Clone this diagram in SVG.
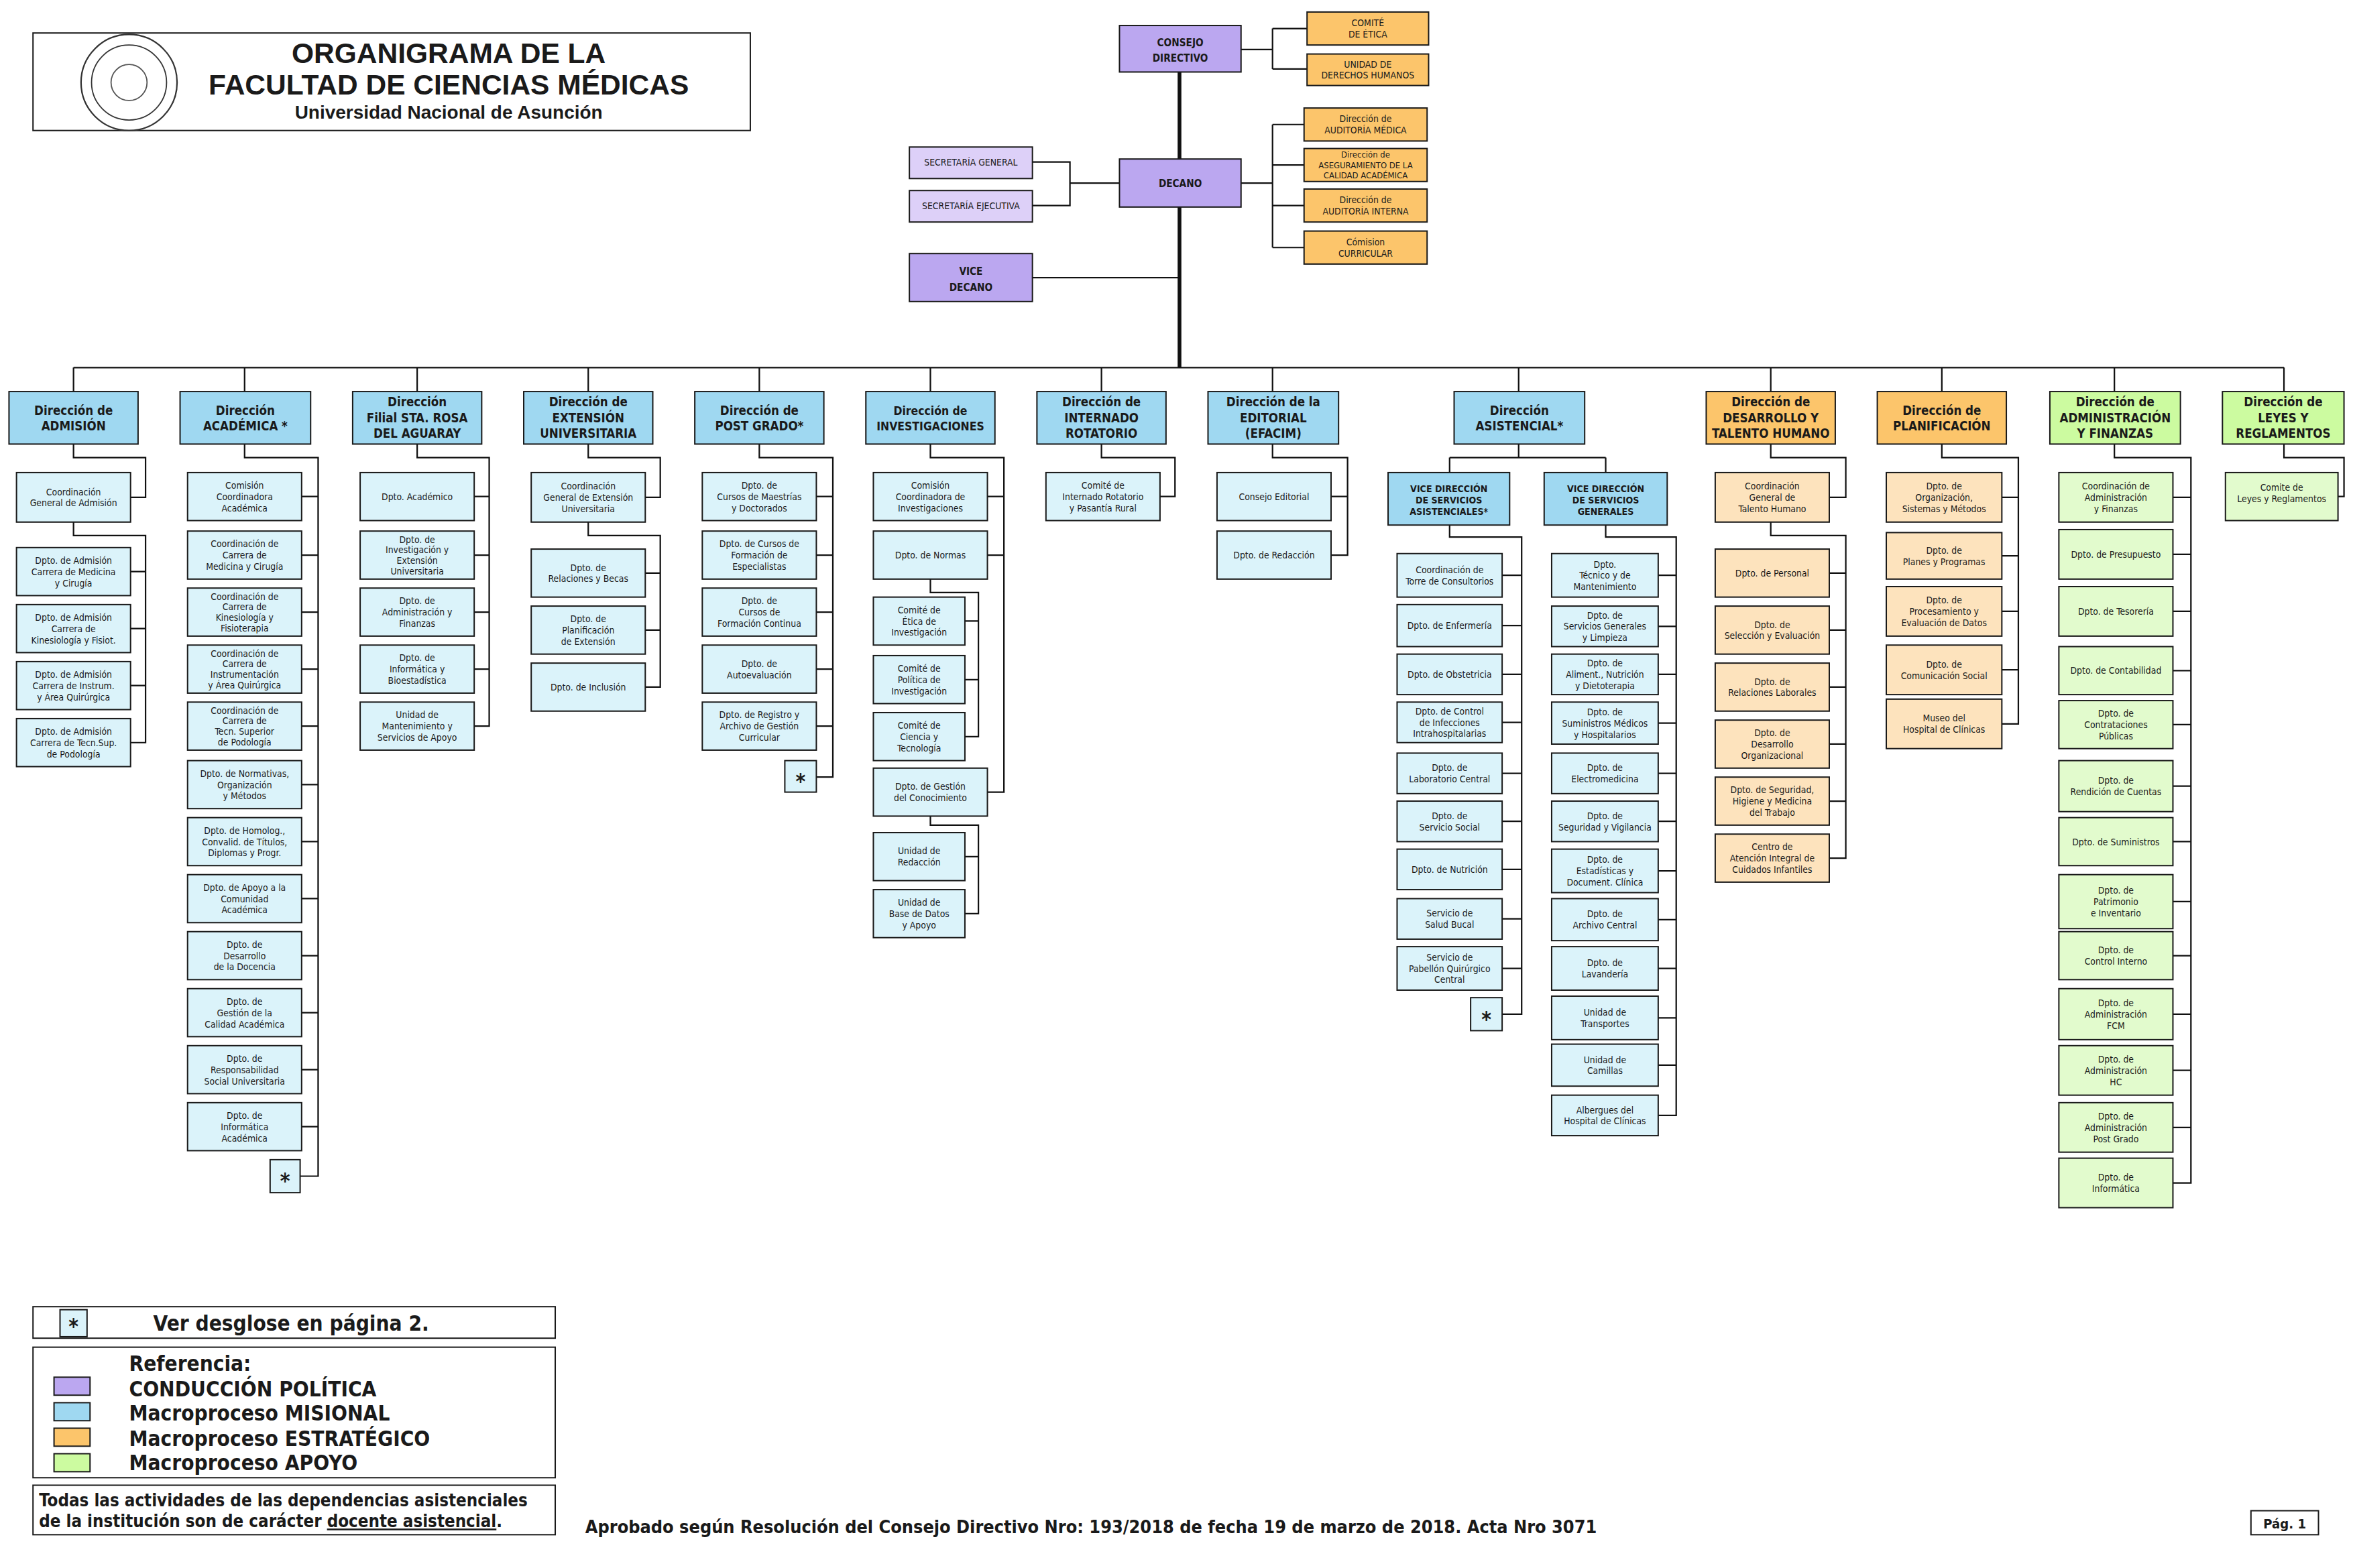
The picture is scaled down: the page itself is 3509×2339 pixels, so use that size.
<svg xmlns="http://www.w3.org/2000/svg" width="3509" height="2339" viewBox="0 0 3509 2339">
<style>
rect{stroke:#1a1a1a;stroke-width:0.9}
.d{fill:#9fd8f1}.c{fill:#dbf3fa}.do{fill:#fcc56b}.co{fill:#fde3bd}.dg{fill:#ccfba0}.cg{fill:#e2fbcd}.p{fill:#bba7f0}.pl{fill:#ddd0f8}.w{fill:#fff}
text{font-family:"DejaVu Sans Condensed","DejaVu Sans",sans-serif;fill:#1a1a1a;text-anchor:middle}
.t{font-size:6.2px}
.h{font-size:8.3px;font-weight:bold}
.v{font-size:6.8px;font-weight:bold}
.ln{fill:none;stroke:#111;stroke-width:1}
.st{font-size:14px;font-weight:bold}
</style>
<rect x="0" y="0" width="3509" height="2339" style="fill:#fff;stroke:none"/>
<g transform="scale(2.23788)">
<g id="title">
<rect class="w" x="22" y="22" width="478" height="65"/>
<circle cx="86" cy="55" r="32" fill="#fff" stroke="#333" stroke-width="1"/>
<circle cx="86" cy="55" r="25" fill="none" stroke="#333" stroke-width="0.8"/>
<circle cx="86" cy="55" r="12" fill="none" stroke="#555" stroke-width="0.8"/>
<text x="299" y="42" style="font-family:'Liberation Sans',Arial,sans-serif;font-size:19px;font-weight:bold">ORGANIGRAMA DE LA</text>
<text x="299" y="63" style="font-family:'Liberation Sans',Arial,sans-serif;font-size:19px;font-weight:bold">FACULTAD DE CIENCIAS MÉDICAS</text>
<text x="299" y="79" style="font-family:'Liberation Sans',Arial,sans-serif;font-size:12.5px;font-weight:bold">Universidad Nacional de Asunción</text>
</g>
<g id="connectors">
<path class="ln" d="M786 48V245" style="stroke-width:2.5"/>
<path class="ln" d="M827 33H848M848 19V46M848 19H871M848 46H871"/>
<path class="ln" d="M827 122H848M848 83V165M848 83H869M848 110H869M848 137H869M848 165H869"/>
<path class="ln" d="M688 108H713V137H688M713 122H746M688 185H786"/>
<path class="ln" d="M49 245H1522M49 245V261M163 245V261M278 245V261M392 245V261M506 245V261M620 245V261M734 245V261M848 245V261M1012 245V261M1180 245V261M1294 245V261M1409 245V261M1522 245V261"/>
<path class="ln" d="M49 296V305H97V331.5H87M49 348V357H97V495H87M87 381H97M87 419H97M87 457H97"/>
<path class="ln" d="M163 296V305H212V784H200M201 331H212M201 370H212M201 408H212M201 446H212M201 484H212M201 523H212M201 561H212M201 599H212M201 637H212M201 675H212M201 713H212M201 751H212"/>
<path class="ln" d="M278 296V305H326V484H316M316 331H326M316 370H326M316 408H326M316 446H326"/>
<path class="ln" d="M392 296V305H440V331.5H430M392 348V357H440V458H430M430 382H440M430 420H440"/>
<path class="ln" d="M506 296V305H555V518H544M544 331H555M544 370H555M544 408H555M544 446H555M544 484H555"/>
<path class="ln" d="M620 296V305H669V528H658M658 331H669M658 370H669M620 386V395H652V491H643M643 414H652M643 453H652M620 544V550H652V609H643M643 571H652"/>
<path class="ln" d="M734 296V305H783V331H773"/>
<path class="ln" d="M848 296V305H898V370H887M887 331H898"/>
<path class="ln" d="M1012 296V305M966 305H1070M966 305V315M1070 305V315"/>
<path class="ln" d="M966 350V358H1014V676H1001M1001 383.5H1014M1001 417H1014M1001 449.5H1014M1001 481.5H1014M1001 515.5H1014M1001 547.5H1014M1001 579.5H1014M1001 612.5H1014M1001 645.5H1014"/>
<path class="ln" d="M1070 350V358H1117V743.5H1105M1105 383.5H1117M1105 417.5H1117M1105 449.5H1117M1105 482H1117M1105 515.5H1117M1105 547.5H1117M1105 580.5H1117M1105 613H1117M1105 645.5H1117M1105 678.5H1117M1105 710H1117"/>
<path class="ln" d="M1180 296V305H1230V331.5H1219M1180 348V357H1230V572H1219M1219 382H1230M1219 420H1230M1219 458H1230M1219 496H1230M1219 534H1230"/>
<path class="ln" d="M1294 296V305H1345V482.5H1334M1334 331.5H1345M1334 370.5H1345M1334 407.5H1345M1334 446.5H1345"/>
<path class="ln" d="M1409 296V305H1460V788.5H1448M1448 331.5H1460M1448 369.5H1460M1448 407.5H1460M1448 447H1460M1448 483H1460M1448 524H1460M1448 561H1460M1448 601H1460M1448 637H1460M1448 676H1460M1448 713.5H1460M1448 751.5H1460"/>
<path class="ln" d="M1522 296V305H1562V331H1558"/>
</g>
<!-- top -->
<g id="consejo"><rect class="p" x="746" y="17" width="81" height="31"/><text class="v"><tspan x="786.5" y="31">CONSEJO</tspan><tspan x="786.5" y="41">DIRECTIVO</tspan></text></g>
<g id="etica"><rect class="do" x="871" y="8" width="81" height="22"/><text class="t"><tspan x="911.5" y="17.5">COMITÉ</tspan><tspan x="911.5" y="25">DE ÉTICA</tspan></text></g>
<g id="ddhh"><rect class="do" x="871" y="36" width="81" height="21"/><text class="t"><tspan x="911.5" y="45">UNIDAD DE</tspan><tspan x="911.5" y="52.5">DERECHOS HUMANOS</tspan></text></g>
<g id="decano"><rect class="p" x="746" y="106" width="81" height="32"/><text class="v" x="786.5" y="124.5">DECANO</text></g>
<g id="audmed"><rect class="do" x="869" y="72" width="82" height="22"/><text class="t"><tspan x="910" y="81.5">Dirección de</tspan><tspan x="910" y="89">AUDITORÍA MÉDICA</tspan></text></g>
<g id="asegur"><rect class="do" x="869" y="99" width="82" height="22"/><text class="t" style="font-size:5.8px"><tspan x="910" y="105">Dirección de</tspan><tspan x="910" y="112">ASEGURAMIENTO DE LA</tspan><tspan x="910" y="119">CALIDAD ACADÉMICA</tspan></text></g>
<g id="audint"><rect class="do" x="869" y="126" width="82" height="22"/><text class="t"><tspan x="910" y="135.5">Dirección de</tspan><tspan x="910" y="143">AUDITORÍA INTERNA</tspan></text></g>
<g id="curric"><rect class="do" x="869" y="154" width="82" height="22"/><text class="t"><tspan x="910" y="163.5">Cómision</tspan><tspan x="910" y="171">CURRICULAR</tspan></text></g>
<g id="secgen"><rect class="pl" x="606" y="98" width="82" height="21"/><text class="t" x="647" y="110.5">SECRETARÍA GENERAL</text></g>
<g id="seceje"><rect class="pl" x="606" y="127" width="82" height="21"/><text class="t" x="647" y="139.5">SECRETARÍA EJECUTIVA</text></g>
<g id="vice"><rect class="p" x="606" y="169" width="82" height="32"/><text class="v"><tspan x="647" y="183">VICE</tspan><tspan x="647" y="194">DECANO</tspan></text></g>
<!-- directors -->
<g id="d-admision"><rect class="d" x="6" y="261" width="86" height="35"/><text class="h"><tspan x="49" y="276.5">Dirección de</tspan><tspan x="49" y="287">ADMISIÓN</tspan></text></g>
<g id="d-academica"><rect class="d" x="120" y="261" width="87" height="35"/><text class="h"><tspan x="163.5" y="276.5">Dirección</tspan><tspan x="163.5" y="287">ACADÉMICA *</tspan></text></g>
<g id="d-filial"><rect class="d" x="235" y="261" width="86" height="35"/><text class="h"><tspan x="278" y="271">Dirección</tspan><tspan x="278" y="281.5">Filial STA. ROSA</tspan><tspan x="278" y="292">DEL AGUARAY</tspan></text></g>
<g id="d-extension"><rect class="d" x="349" y="261" width="86" height="35"/><text class="h"><tspan x="392" y="271">Dirección de</tspan><tspan x="392" y="281.5">EXTENSIÓN</tspan><tspan x="392" y="292">UNIVERSITARIA</tspan></text></g>
<g id="d-postgrado"><rect class="d" x="463" y="261" width="86" height="35"/><text class="h"><tspan x="506" y="276.5">Dirección de</tspan><tspan x="506" y="287">POST GRADO*</tspan></text></g>
<g id="d-invest"><rect class="d" x="577" y="261" width="86" height="35"/><text class="h" style="font-size:7.8px"><tspan x="620" y="276.5">Dirección de</tspan><tspan x="620" y="287">INVESTIGACIONES</tspan></text></g>
<g id="d-internado"><rect class="d" x="691" y="261" width="86" height="35"/><text class="h"><tspan x="734" y="271">Dirección de</tspan><tspan x="734" y="281.5">INTERNADO</tspan><tspan x="734" y="292">ROTATORIO</tspan></text></g>
<g id="d-editorial"><rect class="d" x="805" y="261" width="87" height="35"/><text class="h"><tspan x="848.5" y="271">Dirección de la</tspan><tspan x="848.5" y="281.5">EDITORIAL</tspan><tspan x="848.5" y="292">(EFACIM)</tspan></text></g>
<g id="d-asistencial"><rect class="d" x="969" y="261" width="87" height="35"/><text class="h"><tspan x="1012.5" y="276.5">Dirección</tspan><tspan x="1012.5" y="287">ASISTENCIAL*</tspan></text></g>
<g id="d-desarrollo"><rect class="do" x="1137" y="261" width="86" height="35"/><text class="h"><tspan x="1180" y="271">Dirección de</tspan><tspan x="1180" y="281.5">DESARROLLO Y</tspan><tspan x="1180" y="292">TALENTO HUMANO</tspan></text></g>
<g id="d-planif"><rect class="do" x="1251" y="261" width="86" height="35"/><text class="h"><tspan x="1294" y="276.5">Dirección de</tspan><tspan x="1294" y="287">PLANIFICACIÓN</tspan></text></g>
<g id="d-admin"><rect class="dg" x="1366" y="261" width="87" height="35"/><text class="h"><tspan x="1409.5" y="271">Dirección de</tspan><tspan x="1409.5" y="281.5">ADMINISTRACIÓN</tspan><tspan x="1409.5" y="292">Y FINANZAS</tspan></text></g>
<g id="d-leyes"><rect class="dg" x="1481" y="261" width="81" height="35"/><text class="h"><tspan x="1521.5" y="271">Dirección de</tspan><tspan x="1521.5" y="281.5">LEYES Y</tspan><tspan x="1521.5" y="292">REGLAMENTOS</tspan></text></g>
<!-- Admision -->
<g id="adm1"><rect class="c" x="11" y="315" width="76" height="33"/><text class="t"><tspan x="49" y="330">Coordinación</tspan><tspan x="49" y="337.5">General de Admisión</tspan></text></g>
<g id="adm2"><rect class="c" x="11" y="365" width="76" height="32"/><text class="t"><tspan x="49" y="375.8">Dpto. de Admisión</tspan><tspan x="49" y="383.3">Carrera de Medicina</tspan><tspan x="49" y="390.8">y Cirugía</tspan></text></g>
<g id="adm3"><rect class="c" x="11" y="403" width="76" height="32"/><text class="t"><tspan x="49" y="413.8">Dpto. de Admisión</tspan><tspan x="49" y="421.3">Carrera de</tspan><tspan x="49" y="428.8">Kinesiología y Fisiot.</tspan></text></g>
<g id="adm4"><rect class="c" x="11" y="441" width="76" height="32"/><text class="t"><tspan x="49" y="451.8">Dpto. de Admisión</tspan><tspan x="49" y="459.3">Carrera de Instrum.</tspan><tspan x="49" y="466.8">y Área Quirúrgica</tspan></text></g>
<g id="adm5"><rect class="c" x="11" y="479" width="76" height="32"/><text class="t"><tspan x="49" y="489.8">Dpto. de Admisión</tspan><tspan x="49" y="497.3">Carrera de Tecn.Sup.</tspan><tspan x="49" y="504.8">de Podología</tspan></text></g>
<!-- Academica -->
<g id="aca1"><rect class="c" x="125" y="315" width="76" height="32"/><text class="t"><tspan x="163" y="325.8">Comisión</tspan><tspan x="163" y="333.3">Coordinadora</tspan><tspan x="163" y="340.8">Académica</tspan></text></g>
<g id="aca2"><rect class="c" x="125" y="354" width="76" height="32"/><text class="t"><tspan x="163" y="364.8">Coordinación de</tspan><tspan x="163" y="372.3">Carrera de</tspan><tspan x="163" y="379.8">Medicina y Cirugía</tspan></text></g>
<g id="aca3"><rect class="c" x="125" y="392" width="76" height="32"/><text class="t"><tspan x="163" y="399.8">Coordinación de</tspan><tspan x="163" y="406.8">Carrera de</tspan><tspan x="163" y="413.8">Kinesiología y</tspan><tspan x="163" y="420.8">Fisioterapia</tspan></text></g>
<g id="aca4"><rect class="c" x="125" y="430" width="76" height="32"/><text class="t"><tspan x="163" y="437.8">Coordinación de</tspan><tspan x="163" y="444.8">Carrera de</tspan><tspan x="163" y="451.8">Instrumentación</tspan><tspan x="163" y="458.8">y Área Quirúrgica</tspan></text></g>
<g id="aca5"><rect class="c" x="125" y="468" width="76" height="32"/><text class="t"><tspan x="163" y="475.8">Coordinación de</tspan><tspan x="163" y="482.8">Carrera de</tspan><tspan x="163" y="489.8">Tecn. Superior</tspan><tspan x="163" y="496.8">de Podología</tspan></text></g>
<g id="aca6"><rect class="c" x="125" y="507" width="76" height="32"/><text class="t"><tspan x="163" y="517.8">Dpto. de Normativas,</tspan><tspan x="163" y="525.3">Organización</tspan><tspan x="163" y="532.8">y Métodos</tspan></text></g>
<g id="aca7"><rect class="c" x="125" y="545" width="76" height="32"/><text class="t"><tspan x="163" y="555.8">Dpto. de Homolog.,</tspan><tspan x="163" y="563.3">Convalid. de Títulos,</tspan><tspan x="163" y="570.8">Diplomas y Progr.</tspan></text></g>
<g id="aca8"><rect class="c" x="125" y="583" width="76" height="32"/><text class="t"><tspan x="163" y="593.8">Dpto. de Apoyo a la</tspan><tspan x="163" y="601.3">Comunidad</tspan><tspan x="163" y="608.8">Académica</tspan></text></g>
<g id="aca9"><rect class="c" x="125" y="621" width="76" height="32"/><text class="t"><tspan x="163" y="631.8">Dpto. de</tspan><tspan x="163" y="639.3">Desarrollo</tspan><tspan x="163" y="646.8">de la Docencia</tspan></text></g>
<g id="aca10"><rect class="c" x="125" y="659" width="76" height="32"/><text class="t"><tspan x="163" y="669.8">Dpto. de</tspan><tspan x="163" y="677.3">Gestión de la</tspan><tspan x="163" y="684.8">Calidad Académica</tspan></text></g>
<g id="aca11"><rect class="c" x="125" y="697" width="76" height="32"/><text class="t"><tspan x="163" y="707.8">Dpto. de</tspan><tspan x="163" y="715.3">Responsabilidad</tspan><tspan x="163" y="722.8">Social Universitaria</tspan></text></g>
<g id="aca12"><rect class="c" x="125" y="735" width="76" height="32"/><text class="t"><tspan x="163" y="745.8">Dpto. de</tspan><tspan x="163" y="753.3">Informática</tspan><tspan x="163" y="760.8">Académica</tspan></text></g>
<g id="aca-star"><rect class="c" x="180" y="773" width="20" height="22"/><text class="st" x="190" y="792">*</text></g>
<!-- Filial -->
<g id="fil1"><rect class="c" x="240" y="315" width="76" height="32"/><text class="t" x="278" y="333.3">Dpto. Académico</text></g>
<g id="fil2"><rect class="c" x="240" y="354" width="76" height="32"/><text class="t"><tspan x="278" y="361.8">Dpto. de</tspan><tspan x="278" y="368.8">Investigación y</tspan><tspan x="278" y="375.8">Extensión</tspan><tspan x="278" y="382.8">Universitaria</tspan></text></g>
<g id="fil3"><rect class="c" x="240" y="392" width="76" height="32"/><text class="t"><tspan x="278" y="402.8">Dpto. de</tspan><tspan x="278" y="410.3">Administración y</tspan><tspan x="278" y="417.8">Finanzas</tspan></text></g>
<g id="fil4"><rect class="c" x="240" y="430" width="76" height="32"/><text class="t"><tspan x="278" y="440.8">Dpto. de</tspan><tspan x="278" y="448.3">Informática y</tspan><tspan x="278" y="455.8">Bioestadística</tspan></text></g>
<g id="fil5"><rect class="c" x="240" y="468" width="76" height="32"/><text class="t"><tspan x="278" y="478.8">Unidad de</tspan><tspan x="278" y="486.3">Mantenimiento y</tspan><tspan x="278" y="493.8">Servicios de Apoyo</tspan></text></g>
<!-- Extension -->
<g id="ext1"><rect class="c" x="354" y="315" width="76" height="33"/><text class="t"><tspan x="392" y="326.3">Coordinación</tspan><tspan x="392" y="333.8">General de Extensión</tspan><tspan x="392" y="341.3">Universitaria</tspan></text></g>
<g id="ext2"><rect class="c" x="354" y="366" width="76" height="32"/><text class="t"><tspan x="392" y="380.5">Dpto. de</tspan><tspan x="392" y="388">Relaciones y Becas</tspan></text></g>
<g id="ext3"><rect class="c" x="354" y="404" width="76" height="32"/><text class="t"><tspan x="392" y="414.8">Dpto. de</tspan><tspan x="392" y="422.3">Planificación</tspan><tspan x="392" y="429.8">de Extensión</tspan></text></g>
<g id="ext4"><rect class="c" x="354" y="442" width="76" height="32"/><text class="t" x="392" y="460.3">Dpto. de Inclusión</text></g>
<!-- Post grado -->
<g id="pg1"><rect class="c" x="468" y="315" width="76" height="32"/><text class="t"><tspan x="506" y="325.8">Dpto. de</tspan><tspan x="506" y="333.3">Cursos de Maestrías</tspan><tspan x="506" y="340.8">y Doctorados</tspan></text></g>
<g id="pg2"><rect class="c" x="468" y="354" width="76" height="32"/><text class="t"><tspan x="506" y="364.8">Dpto. de Cursos de</tspan><tspan x="506" y="372.3">Formación de</tspan><tspan x="506" y="379.8">Especialistas</tspan></text></g>
<g id="pg3"><rect class="c" x="468" y="392" width="76" height="32"/><text class="t"><tspan x="506" y="402.8">Dpto. de</tspan><tspan x="506" y="410.3">Cursos de</tspan><tspan x="506" y="417.8">Formación Continua</tspan></text></g>
<g id="pg4"><rect class="c" x="468" y="430" width="76" height="32"/><text class="t"><tspan x="506" y="444.5">Dpto. de</tspan><tspan x="506" y="452">Autoevaluación</tspan></text></g>
<g id="pg5"><rect class="c" x="468" y="468" width="76" height="32"/><text class="t"><tspan x="506" y="478.8">Dpto. de Registro y</tspan><tspan x="506" y="486.3">Archivo de Gestión</tspan><tspan x="506" y="493.8">Curricular</tspan></text></g>
<g id="pg-star"><rect class="c" x="523" y="507" width="21" height="21"/><text class="st" x="533.5" y="525.5">*</text></g>
<!-- Investigaciones -->
<g id="inv1"><rect class="c" x="582" y="315" width="76" height="32"/><text class="t"><tspan x="620" y="325.8">Comisión</tspan><tspan x="620" y="333.3">Coordinadora de</tspan><tspan x="620" y="340.8">Investigaciones</tspan></text></g>
<g id="inv2"><rect class="c" x="582" y="354" width="76" height="32"/><text class="t" x="620" y="372.3">Dpto. de  Normas</text></g>
<g id="inv3"><rect class="c" x="582" y="398" width="61" height="32"/><text class="t"><tspan x="612.5" y="408.8">Comité de</tspan><tspan x="612.5" y="416.3">Ética de</tspan><tspan x="612.5" y="423.8">Investigación</tspan></text></g>
<g id="inv4"><rect class="c" x="582" y="437" width="61" height="32"/><text class="t"><tspan x="612.5" y="447.8">Comité de</tspan><tspan x="612.5" y="455.3">Política de</tspan><tspan x="612.5" y="462.8">Investigación</tspan></text></g>
<g id="inv5"><rect class="c" x="582" y="475" width="61" height="32"/><text class="t"><tspan x="612.5" y="485.8">Comité de</tspan><tspan x="612.5" y="493.3">Ciencia y</tspan><tspan x="612.5" y="500.8">Tecnología</tspan></text></g>
<g id="inv6"><rect class="c" x="582" y="512" width="76" height="32"/><text class="t"><tspan x="620" y="526.5">Dpto. de Gestión</tspan><tspan x="620" y="534">del Conocimiento</tspan></text></g>
<g id="inv7"><rect class="c" x="582" y="555" width="61" height="32"/><text class="t"><tspan x="612.5" y="569.5">Unidad de</tspan><tspan x="612.5" y="577">Redacción</tspan></text></g>
<g id="inv8"><rect class="c" x="582" y="593" width="61" height="32"/><text class="t"><tspan x="612.5" y="603.8">Unidad de</tspan><tspan x="612.5" y="611.3">Base de Datos</tspan><tspan x="612.5" y="618.8">y Apoyo</tspan></text></g>
<!-- Internado / Editorial -->
<g id="int1"><rect class="c" x="697" y="315" width="76" height="32"/><text class="t"><tspan x="735" y="325.8">Comité de</tspan><tspan x="735" y="333.3">Internado Rotatorio</tspan><tspan x="735" y="340.8">y Pasantía Rural</tspan></text></g>
<g id="edi1"><rect class="c" x="811" y="315" width="76" height="32"/><text class="t" x="849" y="333.3">Consejo  Editorial</text></g>
<g id="edi2"><rect class="c" x="811" y="354" width="76" height="32"/><text class="t" x="849" y="372.3">Dpto. de Redacción</text></g>
<!-- Asistencial -->
<g id="vd-asist"><rect class="d" x="925" y="315" width="81" height="35"/><text class="t" style="font-weight:bold;font-size:6.3px"><tspan x="965.5" y="328">VICE DIRECCIÓN</tspan><tspan x="965.5" y="335.5">DE SERVICIOS</tspan><tspan x="965.5" y="343">ASISTENCIALES*</tspan></text></g>
<g id="vd-gen"><rect class="d" x="1029" y="315" width="82" height="35"/><text class="t" style="font-weight:bold;font-size:6.3px"><tspan x="1070" y="328">VICE DIRECCIÓN</tspan><tspan x="1070" y="335.5">DE SERVICIOS</tspan><tspan x="1070" y="343">GENERALES</tspan></text></g>
<g id="as1"><rect class="c" x="931" y="369" width="70" height="29"/><text class="t"><tspan x="966" y="382">Coordinación de</tspan><tspan x="966" y="389.5">Torre de Consultorios</tspan></text></g>
<g id="as2"><rect class="c" x="931" y="403" width="70" height="28"/><text class="t" x="966" y="419.3">Dpto. de Enfermería</text></g>
<g id="as3"><rect class="c" x="931" y="436" width="70" height="27"/><text class="t" x="966" y="451.8">Dpto. de Obstetricia</text></g>
<g id="as4"><rect class="c" x="931" y="468" width="70" height="27"/><text class="t"><tspan x="966" y="476.3">Dpto. de Control</tspan><tspan x="966" y="483.8">de Infecciones</tspan><tspan x="966" y="491.3">Intrahospitalarias</tspan></text></g>
<g id="as5"><rect class="c" x="931" y="502" width="70" height="27"/><text class="t"><tspan x="966" y="514">Dpto. de</tspan><tspan x="966" y="521.5">Laboratorio Central</tspan></text></g>
<g id="as6"><rect class="c" x="931" y="534" width="70" height="27"/><text class="t"><tspan x="966" y="546">Dpto. de</tspan><tspan x="966" y="553.5">Servicio Social</tspan></text></g>
<g id="as7"><rect class="c" x="931" y="566" width="70" height="27"/><text class="t" x="966" y="581.8">Dpto. de Nutrición</text></g>
<g id="as8"><rect class="c" x="931" y="599" width="70" height="27"/><text class="t"><tspan x="966" y="611">Servicio de</tspan><tspan x="966" y="618.5">Salud Bucal</tspan></text></g>
<g id="as9"><rect class="c" x="931" y="631" width="70" height="29"/><text class="t"><tspan x="966" y="640.3">Servicio de</tspan><tspan x="966" y="647.8">Pabellón Quirúrgico</tspan><tspan x="966" y="655.3">Central</tspan></text></g>
<g id="as-star"><rect class="c" x="980" y="665" width="21" height="22"/><text class="st" x="990.5" y="684">*</text></g>
<g id="sg1"><rect class="c" x="1034" y="369" width="71" height="29"/><text class="t"><tspan x="1069.5" y="378.3">Dpto.</tspan><tspan x="1069.5" y="385.8">Técnico y de</tspan><tspan x="1069.5" y="393.3">Mantenimiento</tspan></text></g>
<g id="sg2"><rect class="c" x="1034" y="404" width="71" height="27"/><text class="t"><tspan x="1069.5" y="412.3">Dpto. de</tspan><tspan x="1069.5" y="419.8">Servicios Generales</tspan><tspan x="1069.5" y="427.3">y Limpieza</tspan></text></g>
<g id="sg3"><rect class="c" x="1034" y="436" width="71" height="27"/><text class="t"><tspan x="1069.5" y="444.3">Dpto. de</tspan><tspan x="1069.5" y="451.8">Aliment., Nutrición</tspan><tspan x="1069.5" y="459.3">y Dietoterapia</tspan></text></g>
<g id="sg4"><rect class="c" x="1034" y="468" width="71" height="28"/><text class="t"><tspan x="1069.5" y="476.8">Dpto. de</tspan><tspan x="1069.5" y="484.3">Suministros Médicos</tspan><tspan x="1069.5" y="491.8">y Hospitalarios</tspan></text></g>
<g id="sg5"><rect class="c" x="1034" y="502" width="71" height="27"/><text class="t"><tspan x="1069.5" y="514">Dpto. de</tspan><tspan x="1069.5" y="521.5">Electromedicina</tspan></text></g>
<g id="sg6"><rect class="c" x="1034" y="534" width="71" height="27"/><text class="t"><tspan x="1069.5" y="546">Dpto. de</tspan><tspan x="1069.5" y="553.5">Seguridad y Vigilancia</tspan></text></g>
<g id="sg7"><rect class="c" x="1034" y="566" width="71" height="29"/><text class="t"><tspan x="1069.5" y="575.3">Dpto. de</tspan><tspan x="1069.5" y="582.8">Estadísticas y</tspan><tspan x="1069.5" y="590.3">Document. Clínica</tspan></text></g>
<g id="sg8"><rect class="c" x="1034" y="599" width="71" height="28"/><text class="t"><tspan x="1069.5" y="611.5">Dpto. de</tspan><tspan x="1069.5" y="619">Archivo Central</tspan></text></g>
<g id="sg9"><rect class="c" x="1034" y="631" width="71" height="29"/><text class="t"><tspan x="1069.5" y="644">Dpto. de</tspan><tspan x="1069.5" y="651.5">Lavandería</tspan></text></g>
<g id="sg10"><rect class="c" x="1034" y="664" width="71" height="29"/><text class="t"><tspan x="1069.5" y="677">Unidad de</tspan><tspan x="1069.5" y="684.5">Transportes</tspan></text></g>
<g id="sg11"><rect class="c" x="1034" y="696" width="71" height="28"/><text class="t"><tspan x="1069.5" y="708.5">Unidad de</tspan><tspan x="1069.5" y="716">Camillas</tspan></text></g>
<g id="sg12"><rect class="c" x="1034" y="730" width="71" height="27"/><text class="t"><tspan x="1069.5" y="742">Albergues del</tspan><tspan x="1069.5" y="749.5">Hospital de Clínicas</tspan></text></g>
<!-- Desarrollo -->
<g id="th1"><rect class="co" x="1143" y="315" width="76" height="33"/><text class="t"><tspan x="1181" y="326.3">Coordinación</tspan><tspan x="1181" y="333.8">General de</tspan><tspan x="1181" y="341.3">Talento Humano</tspan></text></g>
<g id="th2"><rect class="co" x="1143" y="366" width="76" height="32"/><text class="t" x="1181" y="384.3">Dpto. de Personal</text></g>
<g id="th3"><rect class="co" x="1143" y="404" width="76" height="32"/><text class="t"><tspan x="1181" y="418.5">Dpto. de</tspan><tspan x="1181" y="426">Selección y Evaluación</tspan></text></g>
<g id="th4"><rect class="co" x="1143" y="442" width="76" height="32"/><text class="t"><tspan x="1181" y="456.5">Dpto. de</tspan><tspan x="1181" y="464">Relaciones Laborales</tspan></text></g>
<g id="th5"><rect class="co" x="1143" y="480" width="76" height="32"/><text class="t"><tspan x="1181" y="490.8">Dpto. de</tspan><tspan x="1181" y="498.3">Desarrollo</tspan><tspan x="1181" y="505.8">Organizacional</tspan></text></g>
<g id="th6"><rect class="co" x="1143" y="518" width="76" height="32"/><text class="t"><tspan x="1181" y="528.8">Dpto. de Seguridad,</tspan><tspan x="1181" y="536.3">Higiene y Medicina</tspan><tspan x="1181" y="543.8">del Trabajo</tspan></text></g>
<g id="th7"><rect class="co" x="1143" y="556" width="76" height="32"/><text class="t"><tspan x="1181" y="566.8">Centro de</tspan><tspan x="1181" y="574.3">Atención Integral de</tspan><tspan x="1181" y="581.8">Cuidados Infantiles</tspan></text></g>
<!-- Planificacion -->
<g id="pl1"><rect class="co" x="1257" y="315" width="77" height="33"/><text class="t"><tspan x="1295.5" y="326.3">Dpto. de</tspan><tspan x="1295.5" y="333.8">Organización,</tspan><tspan x="1295.5" y="341.3">Sistemas y Métodos</tspan></text></g>
<g id="pl2"><rect class="co" x="1257" y="355" width="77" height="31"/><text class="t"><tspan x="1295.5" y="369">Dpto. de</tspan><tspan x="1295.5" y="376.5">Planes y Programas</tspan></text></g>
<g id="pl3"><rect class="co" x="1257" y="391" width="77" height="33"/><text class="t"><tspan x="1295.5" y="402.3">Dpto. de</tspan><tspan x="1295.5" y="409.8">Procesamiento y</tspan><tspan x="1295.5" y="417.3">Evaluación de Datos</tspan></text></g>
<g id="pl4"><rect class="co" x="1257" y="430" width="77" height="33"/><text class="t"><tspan x="1295.5" y="445">Dpto. de</tspan><tspan x="1295.5" y="452.5">Comunicación Social</tspan></text></g>
<g id="pl5"><rect class="co" x="1257" y="466" width="77" height="33"/><text class="t"><tspan x="1295.5" y="481">Museo del</tspan><tspan x="1295.5" y="488.5">Hospital de Clínicas</tspan></text></g>
<!-- Administracion -->
<g id="af1"><rect class="cg" x="1372" y="315" width="76" height="33"/><text class="t"><tspan x="1410" y="326.3">Coordinación de</tspan><tspan x="1410" y="333.8">Administración</tspan><tspan x="1410" y="341.3">y Finanzas</tspan></text></g>
<g id="af2"><rect class="cg" x="1372" y="353" width="76" height="33"/><text class="t" x="1410" y="371.8">Dpto. de Presupuesto</text></g>
<g id="af3"><rect class="cg" x="1372" y="391" width="76" height="33"/><text class="t" x="1410" y="409.8">Dpto. de Tesorería</text></g>
<g id="af4"><rect class="cg" x="1372" y="431" width="76" height="32"/><text class="t" x="1410" y="449.3">Dpto. de Contabilidad</text></g>
<g id="af5"><rect class="cg" x="1372" y="467" width="76" height="32"/><text class="t"><tspan x="1410" y="477.8">Dpto. de</tspan><tspan x="1410" y="485.3">Contrataciones</tspan><tspan x="1410" y="492.8">Públicas</tspan></text></g>
<g id="af6"><rect class="cg" x="1372" y="507" width="76" height="34"/><text class="t"><tspan x="1410" y="522.5">Dpto. de</tspan><tspan x="1410" y="530">Rendición de Cuentas</tspan></text></g>
<g id="af7"><rect class="cg" x="1372" y="545" width="76" height="32"/><text class="t" x="1410" y="563.3">Dpto. de Suministros</text></g>
<g id="af8"><rect class="cg" x="1372" y="583" width="76" height="36"/><text class="t"><tspan x="1410" y="595.8">Dpto. de</tspan><tspan x="1410" y="603.3">Patrimonio</tspan><tspan x="1410" y="610.8">e Inventario</tspan></text></g>
<g id="af9"><rect class="cg" x="1372" y="621" width="76" height="32"/><text class="t"><tspan x="1410" y="635.5">Dpto. de</tspan><tspan x="1410" y="643">Control Interno</tspan></text></g>
<g id="af10"><rect class="cg" x="1372" y="659" width="76" height="34"/><text class="t"><tspan x="1410" y="670.8">Dpto. de</tspan><tspan x="1410" y="678.3">Administración</tspan><tspan x="1410" y="685.8">FCM</tspan></text></g>
<g id="af11"><rect class="cg" x="1372" y="697" width="76" height="33"/><text class="t"><tspan x="1410" y="708.3">Dpto. de</tspan><tspan x="1410" y="715.8">Administración</tspan><tspan x="1410" y="723.3">HC</tspan></text></g>
<g id="af12"><rect class="cg" x="1372" y="735" width="76" height="33"/><text class="t"><tspan x="1410" y="746.3">Dpto. de</tspan><tspan x="1410" y="753.8">Administración</tspan><tspan x="1410" y="761.3">Post Grado</tspan></text></g>
<g id="af13"><rect class="cg" x="1372" y="772" width="76" height="33"/><text class="t"><tspan x="1410" y="787">Dpto. de</tspan><tspan x="1410" y="794.5">Informática</tspan></text></g>
<g id="ley1"><rect class="cg" x="1483" y="315" width="75" height="32"/><text class="t"><tspan x="1520.5" y="327">Comite de</tspan><tspan x="1520.5" y="334.5">Leyes y Reglamentos</tspan></text></g>
<!-- legend -->
<g id="legend" style="font-family:'DejaVu Sans Condensed','DejaVu Sans',sans-serif">
<rect class="w" x="22" y="871" width="348" height="21"/>
<rect class="c" x="40" y="873" width="18" height="18"/><text class="st" x="49" y="889">*</text>
<text x="194" y="887" style="font-size:14px;font-weight:bold">Ver desglose en página 2.</text>
<rect class="w" x="22" y="898" width="348" height="87"/>
<rect class="p" x="36" y="918" width="24" height="12"/>
<rect class="d" x="36" y="935" width="24" height="12"/>
<rect class="do" x="36" y="952" width="24" height="12"/>
<rect class="dg" x="36" y="969" width="24" height="12"/>
<g style="font-size:14px;font-weight:bold;text-anchor:start">
<text x="86" y="914" style="text-anchor:start">Referencia:</text>
<text x="86" y="931" style="text-anchor:start">CONDUCCIÓN POLÍTICA</text>
<text x="86" y="947" style="text-anchor:start">Macroproceso MISIONAL</text>
<text x="86" y="964" style="text-anchor:start">Macroproceso ESTRATÉGICO</text>
<text x="86" y="980" style="text-anchor:start">Macroproceso APOYO</text>
</g>
<rect class="w" x="22" y="990" width="348" height="33"/>
<text x="26" y="1004" style="font-size:11.5px;font-weight:bold;text-anchor:start">Todas las actividades de las dependencias asistenciales</text>
<text x="26" y="1018" style="font-size:11.5px;font-weight:bold;text-anchor:start">de la institución son de carácter <tspan text-decoration="underline">docente asistencial</tspan>.</text>
</g>
<g id="footer">
<text x="390" y="1022" style="font-family:'DejaVu Sans Condensed','DejaVu Sans',sans-serif;font-size:12px;font-weight:bold;text-anchor:start">Aprobado según Resolución del Consejo Directivo Nro: 193/2018 de fecha 19 de marzo de 2018. Acta Nro 3071</text>
<rect class="w" x="1500" y="1007" width="45" height="16"/>
<text x="1522.5" y="1019" style="font-size:9px;font-weight:bold">Pág. 1</text>
</g>
</g>
</svg>
